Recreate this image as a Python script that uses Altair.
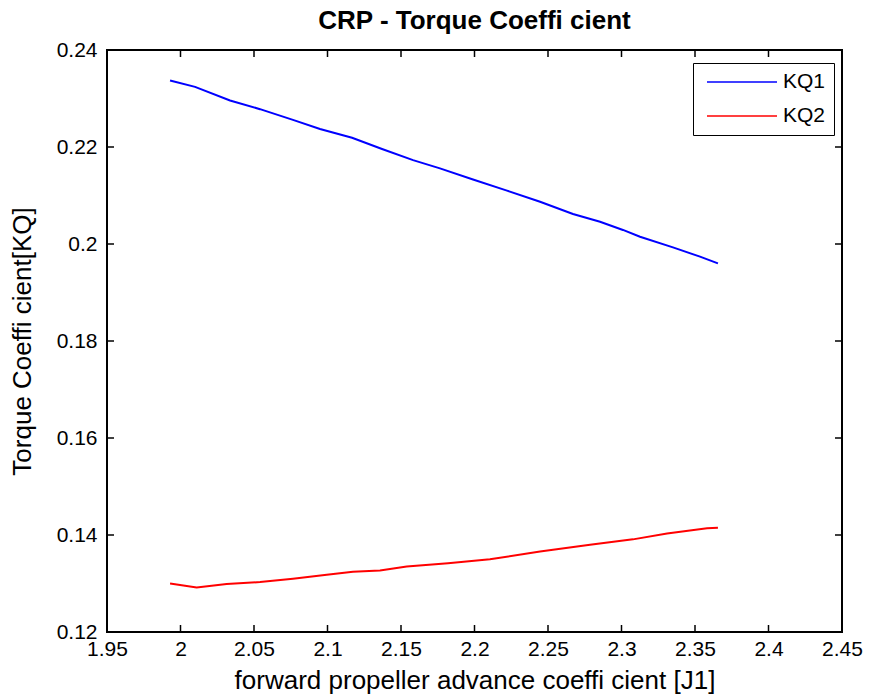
import altair as alt
import pandas as pd

J1 = [1.9929, 2.0099, 2.0337, 2.0541, 2.0765, 2.0949, 2.1167, 2.1371, 2.1582, 2.1765,
      2.1990, 2.2221, 2.2446, 2.2670, 2.2854, 2.3010, 2.3126, 2.3350, 2.3534, 2.3656]
KQ1 = [0.2337, 0.2324, 0.2296, 0.2278, 0.2256, 0.2237, 0.2219, 0.2196, 0.2173, 0.2156,
       0.2133, 0.2110, 0.2087, 0.2062, 0.2046, 0.2029, 0.2015, 0.1993, 0.1974, 0.1960]

J2 = [1.9929, 2.0110, 2.0314, 2.0541, 2.0765, 2.0995, 2.1173, 2.1357, 2.1539, 2.1820,
      2.2105, 2.2446, 2.2786, 2.3078, 2.3310, 2.3582, 2.3656]
KQ2 = [0.1300, 0.1292, 0.1299, 0.1303, 0.1310, 0.1318, 0.1324, 0.1327, 0.1335, 0.1342,
       0.1350, 0.1366, 0.1380, 0.1391, 0.1403, 0.1414, 0.1415]

x_ticks = [1.95, 2.0, 2.05, 2.1, 2.15, 2.2, 2.25, 2.3, 2.35, 2.4, 2.45]
y_ticks = [0.12, 0.14, 0.16, 0.18, 0.2, 0.22, 0.24]

df = pd.concat([
    pd.DataFrame({"J": J1, "KQ": KQ1, "series": "KQ1"}),
    pd.DataFrame({"J": J2, "KQ": KQ2, "series": "KQ2"}),
])
xt = pd.DataFrame({"v": x_ticks})
yt = pd.DataFrame({"v": y_ticks})

W, H = 735, 582
FONT = "Liberation Sans"
TL = 7

xs = alt.Scale(domain=[1.95, 2.45], nice=False, zero=False)
ys = alt.Scale(domain=[0.12, 0.24], nice=False, zero=False)

lines = alt.Chart(df).mark_line(strokeWidth=2).encode(
    x=alt.X("J:Q", scale=xs, axis=alt.Axis(
        title="forward propeller advance coeffi  cient [J1]", values=x_ticks, format="~g",
        ticks=False, domain=False, grid=False, labelPadding=6, labelFontSize=21,
        labelFlush=False, labelOverlap=False,
        titleFontSize=26, titleFontWeight="normal", titlePadding=8, labelFont=FONT, titleFont=FONT,
        labelColor="black", titleColor="black")),
    y=alt.Y("KQ:Q", scale=ys, axis=alt.Axis(
        title="Torque Coeffi  cient[KQ]", values=y_ticks, format="~g",
        ticks=False, domain=False, grid=False, labelPadding=10, labelFontSize=21,
        labelFlush=False, labelOverlap=False,
        titleFontSize=26, titleFontWeight="normal", titlePadding=21, labelFont=FONT, titleFont=FONT,
        labelColor="black", titleColor="black")),
    color=alt.Color("series:N", scale=alt.Scale(domain=["KQ1", "KQ2"], range=["#0000ff", "#ff0000"]),
                    legend=alt.Legend(title=None, orient="none", legendX=586, legendY=13,
                                      symbolType="stroke", symbolSize=4900, symbolStrokeWidth=1.5,
                                      symbolOffset=5, clipHeight=22, rowPadding=12,
                                      labelFontSize=21, labelFont=FONT, labelColor="black",
                                      strokeColor="black", padding=8,
                                      fillColor="white", labelOffset=5)),
)

bx = alt.Chart(xt).mark_rule(color="black", strokeWidth=1.5).encode(
    x=alt.X("v:Q", scale=xs), y=alt.value(H), y2=alt.value(H - TL))
tx = alt.Chart(xt).mark_rule(color="black", strokeWidth=1.5).encode(
    x=alt.X("v:Q", scale=xs), y=alt.value(0), y2=alt.value(TL))
ly = alt.Chart(yt).mark_rule(color="black", strokeWidth=1.5).encode(
    y=alt.Y("v:Q", scale=ys), x=alt.value(0), x2=alt.value(TL))
ry = alt.Chart(yt).mark_rule(color="black", strokeWidth=1.5).encode(
    y=alt.Y("v:Q", scale=ys), x=alt.value(W), x2=alt.value(W - TL))

chart = alt.layer(bx, tx, ly, ry, lines).properties(
    width=W, height=H,
    autosize=alt.AutoSizeParams(type="none"),
    padding={"left": 99, "top": 42, "right": 22, "bottom": 68},
    background="white",
    title=alt.Title("CRP - Torque Coeffi  cient", fontSize=26, font=FONT, fontWeight="bold",
                    color="black", anchor="middle", offset=5),
).configure_view(stroke="black", strokeWidth=2, strokeOpacity=1)

chart.save("out.html", embed_options={"renderer": "svg", "actions": False})
